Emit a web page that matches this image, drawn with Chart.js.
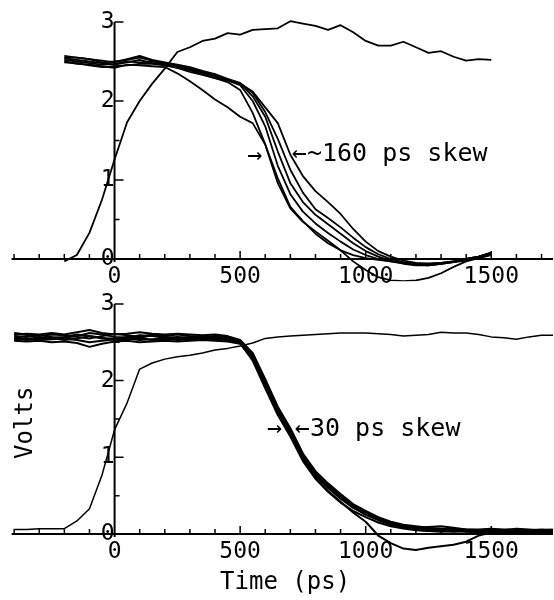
<!DOCTYPE html>
<html>
<head>
<meta charset="utf-8">
<script src="https://cdn.jsdelivr.net/npm/chart.js@4.4.1/dist/chart.umd.min.js"></script>
<style>
  html, body { margin: 0; padding: 0; background: #fff; }
  #wrap { position: relative; width: 554px; height: 600px; overflow: hidden; }
  canvas { position: absolute; left: 0; }
  #topChart { top: 0; }
  #bottomChart { top: 285px; }
</style>
</head>
<body>
<div id="wrap">
  <canvas id="topChart" width="554" height="300"></canvas>
  <canvas id="bottomChart" width="554" height="315"></canvas>
</div>
<script>
// tick labels
const xTicks = [0, 500, 1000, 1500];
const yTicks = [0, 1, 2, 3];

// upper plot: ~160 ps skew (time in ps, values in volts)
const topTimes = [-200,-150,-100,-50,0,50,100,150,200,250,300,350,400,450,500,550,600,650,700,750,800,850,900,950,1000,1050,1100,1150,1200,1250,1300,1350,1400,1450,1500];
const topRise = [-0.03,0.05,0.33,0.75,1.26,1.73,2.00,2.22,2.41,2.62,2.68,2.76,2.79,2.86,2.84,2.90,2.91,2.92,3.01,2.98,2.95,2.90,2.96,2.87,2.76,2.70,2.70,2.75,2.68,2.61,2.63,2.56,2.51,2.53,2.52];
const topA = [2.50,2.47,2.46,2.44,2.42,2.46,2.45,2.44,2.43,2.35,2.25,2.14,2.02,1.92,1.80,1.72,1.45,0.96,0.64,0.47,0.35,0.23,0.11,-0.03,-0.14,-0.23,-0.27,-0.28,-0.27,-0.24,-0.18,-0.10,-0.03,0.01,0.05];
const topB = [2.54,2.52,2.50,2.48,2.46,2.49,2.52,2.48,2.46,2.42,2.37,2.33,2.29,2.24,2.14,1.85,1.45,1.02,0.66,0.48,0.32,0.20,0.11,0.05,0.01,-0.01,-0.03,-0.05,-0.06,-0.06,-0.05,-0.03,0.00,0.03,0.07];
const topC = [2.57,2.55,2.53,2.49,2.50,2.52,2.55,2.51,2.48,2.45,2.41,2.37,2.32,2.26,2.20,2.00,1.68,1.18,0.82,0.60,0.45,0.33,0.22,0.12,0.05,0.00,-0.03,-0.06,-0.08,-0.08,-0.06,-0.04,-0.01,0.03,0.08];
const topD = [2.49,2.48,2.45,2.43,2.44,2.45,2.47,2.47,2.45,2.42,2.39,2.34,2.29,2.26,2.22,2.06,1.80,1.36,0.96,0.72,0.56,0.44,0.32,0.20,0.10,0.03,-0.02,-0.05,-0.07,-0.08,-0.06,-0.04,-0.02,0.02,0.06];
const topE = [2.55,2.55,2.53,2.51,2.49,2.53,2.57,2.52,2.49,2.46,2.43,2.38,2.34,2.28,2.23,2.10,1.86,1.52,1.13,0.84,0.63,0.52,0.40,0.27,0.15,0.06,0.00,-0.04,-0.06,-0.07,-0.06,-0.03,0.00,0.03,0.07];
const topF = [2.52,2.50,2.48,2.46,2.47,2.50,2.49,2.50,2.47,2.44,2.40,2.36,2.31,2.27,2.22,2.12,1.92,1.72,1.32,1.05,0.86,0.72,0.57,0.38,0.22,0.10,0.03,-0.02,-0.05,-0.06,-0.05,-0.03,0.00,0.03,0.08];

// lower plot: ~30 ps skew
const bottomTimes = [-400,-350,-300,-250,-200,-150,-100,-50,0,50,100,150,200,250,300,350,400,450,500,550,600,650,700,750,800,850,900,950,1000,1050,1100,1150,1200,1250,1300,1350,1400,1450,1500,1550,1600,1650,1700,1750];
const bottomRise = [0.06,0.06,0.07,0.07,0.07,0.17,0.33,0.77,1.36,1.71,2.15,2.23,2.28,2.31,2.33,2.36,2.40,2.42,2.45,2.49,2.55,2.57,2.58,2.59,2.60,2.61,2.62,2.62,2.62,2.61,2.60,2.58,2.59,2.60,2.63,2.62,2.62,2.60,2.57,2.56,2.54,2.57,2.59,2.59];
const bottomA = [2.58,2.57,2.59,2.57,2.56,2.58,2.62,2.60,2.57,2.56,2.59,2.58,2.56,2.57,2.56,2.57,2.56,2.55,2.50,2.30,1.95,1.60,1.31,0.98,0.76,0.60,0.46,0.34,0.26,0.19,0.14,0.11,0.09,0.07,0.06,0.06,0.05,0.05,0.05,0.04,0.05,0.04,0.05,0.04];
const bottomB = [2.54,2.55,2.53,2.54,2.55,2.53,2.50,2.52,2.54,2.55,2.53,2.54,2.55,2.53,2.54,2.55,2.54,2.53,2.49,2.26,1.90,1.55,1.27,0.95,0.72,0.55,0.41,0.30,0.22,0.15,0.10,0.07,0.05,0.04,0.03,0.04,0.03,0.02,0.03,0.03,0.02,0.03,0.02,0.03];
const bottomC = [2.60,2.61,2.60,2.62,2.60,2.63,2.66,2.62,2.60,2.61,2.63,2.61,2.60,2.61,2.60,2.59,2.60,2.58,2.53,2.36,2.02,1.66,1.38,1.05,0.82,0.66,0.52,0.39,0.30,0.22,0.16,0.12,0.10,0.08,0.07,0.07,0.06,0.06,0.07,0.06,0.06,0.05,0.06,0.05];
const bottomD = [2.52,2.51,2.52,2.50,2.51,2.49,2.44,2.48,2.51,2.52,2.50,2.51,2.52,2.51,2.52,2.53,2.52,2.51,2.48,2.28,1.96,1.62,1.33,1.01,0.80,0.64,0.50,0.37,0.27,0.19,0.13,0.09,0.07,0.06,0.04,0.03,0.04,0.04,0.03,0.02,0.04,0.03,0.03,0.02];
const bottomE = [2.56,2.58,2.56,2.55,2.57,2.60,2.58,2.55,2.55,2.57,2.56,2.59,2.57,2.55,2.57,2.56,2.55,2.56,2.51,2.31,1.97,1.61,1.32,0.97,0.73,0.56,0.42,0.28,0.16,-0.02,-0.12,-0.19,-0.21,-0.18,-0.16,-0.14,-0.10,-0.02,0.02,0.03,0.03,0.04,0.03,0.04];
const bottomF = [2.62,2.60,2.58,2.60,2.59,2.57,2.55,2.58,2.61,2.59,2.57,2.60,2.58,2.60,2.58,2.57,2.58,2.57,2.52,2.34,2.00,1.64,1.36,1.03,0.79,0.63,0.49,0.36,0.28,0.21,0.15,0.10,0.08,0.09,0.10,0.08,0.06,0.05,0.06,0.05,0.07,0.06,0.05,0.06];
const bottomG = [2.55,2.53,2.55,2.56,2.53,2.55,2.58,2.56,2.53,2.54,2.56,2.53,2.54,2.56,2.55,2.54,2.53,2.54,2.50,2.29,1.93,1.58,1.30,0.99,0.77,0.62,0.48,0.35,0.25,0.18,0.12,0.08,0.06,0.04,0.05,0.05,0.04,0.03,0.04,0.04,0.03,0.04,0.04,0.03];

const monoFont = '"DejaVu Sans Mono", monospace';

// axis lines and inward tick marks, drawn through the chart's scales
const scopeAxes = {
  id: 'scopeAxes',
  afterDatasetsDraw(chart, args, opts) {
    const { ctx, chartArea } = chart;
    const xs = chart.scales.x, ys = chart.scales.y;
    const x0 = xs.getPixelForValue(0);
    const y0 = ys.getPixelForValue(0);
    ctx.save();
    ctx.strokeStyle = '#000';
    ctx.lineWidth = 2;
    ctx.beginPath();
    ctx.moveTo(xs.getPixelForValue(opts.xStart), y0);
    ctx.lineTo(chartArea.right, y0);
    ctx.moveTo(x0, y0 + 3);
    ctx.lineTo(x0, ys.getPixelForValue(3));
    ctx.stroke();
    ctx.lineWidth = 1.5;
    ctx.beginPath();
    for (let t = -400; t <= 1700; t += 100) {
      if (t === 0) continue;
      const px = xs.getPixelForValue(t);
      const len = t % 500 === 0 ? 8 : 5;
      ctx.moveTo(px, y0);
      ctx.lineTo(px, y0 - len);
    }
    for (let v = 0.5; v <= 3; v += 0.5) {
      const py = ys.getPixelForValue(v);
      const len = v % 1 === 0 ? 9 : 5;
      ctx.moveTo(x0, py);
      ctx.lineTo(x0 + len, py);
    }
    ctx.stroke();
    ctx.restore();
  }
};

// text notes placed in data coordinates
const notes = {
  id: 'notes',
  afterDraw(chart, args, opts) {
    const { ctx } = chart;
    ctx.save();
    ctx.fillStyle = '#000';
    ctx.textBaseline = 'middle';
    (opts.items || []).forEach(n => {
      const px = chart.scales.x.getPixelForValue(n.x);
      const py = chart.scales.y.getPixelForValue(n.y);
      ctx.font = (n.size || 25) + 'px ' + monoFont;
      ctx.textAlign = n.align || 'left';
      if (n.rotate) {
        ctx.save();
        ctx.translate(px, py);
        ctx.rotate(n.rotate);
        ctx.fillText(n.text, 0, 0);
        ctx.restore();
      } else {
        ctx.fillText(n.text, px, py);
      }
    });
    ctx.restore();
  }
};

function trace(times, vals, width) {
  return {
    data: vals.map((v, i) => ({ x: times[i], y: v })),
    borderColor: '#000',
    borderWidth: width,
    pointRadius: 0,
    tension: 0,
    fill: false,
    borderJoinStyle: 'round'
  };
}

// origin = pixel of (0 ps, 0 V) in the canvas, kx/ky = pixels per ps / per volt
function makePanel(id, times, series, widths, origin, items) {
  const chart = new Chart(document.getElementById(id), {
    type: 'line',
    data: { datasets: series.map((s, i) => trace(times, s, widths[i])) },
    options: {
      responsive: false,
      animation: false,
      events: [],
      layout: { padding: 0 },
      plugins: {
        legend: { display: false },
        tooltip: { enabled: false },
        scopeAxes: { xStart: -410 },
        notes: { items: items }
      },
      scales: {
        x: {
          type: 'linear',
          min: -450,
          max: 1750,
          position: { y: 0 },
          grid: { display: false, drawTicks: false },
          border: { display: false },
          afterBuildTicks: s => { s.ticks = xTicks.map(v => ({ value: v })); },
          ticks: {
            autoSkip: false,
            maxRotation: 0,
            padding: 4,
            color: '#000',
            font: { family: monoFont, size: 23 },
            callback: v => String(v)
          }
        },
        y: {
          type: 'linear',
          min: -0.5,
          max: 3.3,
          position: { x: 0 },
          grid: { display: false, drawTicks: false },
          border: { display: false },
          afterBuildTicks: s => { s.ticks = yTicks.map(v => ({ value: v })); },
          ticks: {
            autoSkip: false,
            padding: 5,
            color: '#000',
            font: { family: monoFont, size: 23 },
            callback: v => String(v)
          }
        }
      }
    },
    plugins: [scopeAxes, notes]
  });
  // fit the scale ranges so the axes land where the original plot has them
  const a = chart.chartArea;
  const sc = chart.options.scales;
  sc.x.min = -(origin.x0 - a.left) / origin.kx;
  sc.x.max = sc.x.min + (a.right - a.left) / origin.kx;
  sc.y.min = -(a.bottom - origin.y0) / origin.ky;
  sc.y.max = sc.y.min + (a.bottom - a.top) / origin.ky;
  chart.update();
}

makePanel('topChart', topTimes,
  [topRise, topA, topB, topC, topD, topE, topF],
  [1.8, 1.8, 1.8, 1.8, 1.8, 1.8, 1.8],
  { x0: 114, kx: 0.252, y0: 259, ky: 79 },
  [
    { text: '\u2192', x: 528, y: 1.30 },
    { text: '\u2190~160 ps skew', x: 706, y: 1.32 }
  ]);

makePanel('bottomChart', bottomTimes,
  [bottomRise, bottomA, bottomB, bottomC, bottomD, bottomE, bottomF, bottomG],
  [1.5, 2, 2, 2, 2, 2, 2, 2],
  { x0: 114, kx: 0.252, y0: 249, ky: 76.7 },
  [
    { text: '\u2192', x: 607, y: 1.36 },
    { text: '\u219030 ps skew', x: 718, y: 1.36 },
    { text: 'Volts', x: -353, y: 1.45, align: 'center', rotate: -Math.PI / 2, size: 24 },
    { text: 'Time (ps)', x: 679, y: -0.64, align: 'center', size: 24 }
  ]);
</script>
</body>
</html>
